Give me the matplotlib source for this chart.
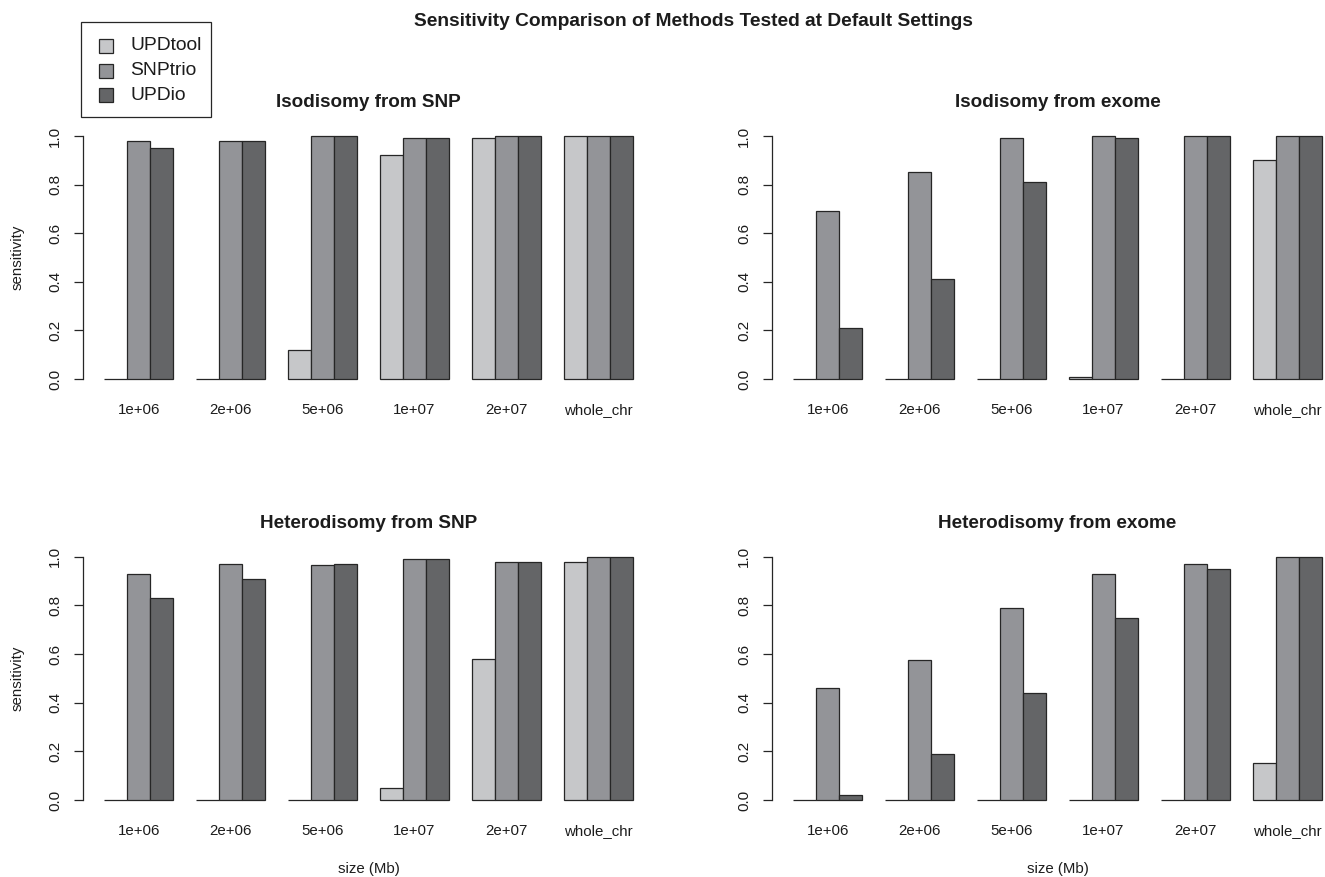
import matplotlib
matplotlib.use("Agg")
import matplotlib.pyplot as plt
from matplotlib.patches import Rectangle
import numpy as np

plt.rcParams['font.family'] = ['Liberation Sans', 'DejaVu Sans']

# ---- data -------------------------------------------------------------
sizes = ["1e+06", "2e+06", "5e+06", "1e+07", "2e+07", "whole_chr"]
methods = ["UPDtool", "SNPtrio", "UPDio"]

iso_snp_updtool = [0.00, 0.00, 0.12, 0.92, 0.99, 1.00]
iso_snp_snptrio = [0.98, 0.98, 1.00, 0.99, 1.00, 1.00]
iso_snp_updio   = [0.95, 0.98, 1.00, 0.99, 1.00, 1.00]

iso_exome_updtool = [0.00, 0.00, 0.00, 0.01, 0.00, 0.90]
iso_exome_snptrio = [0.69, 0.85, 0.99, 1.00, 1.00, 1.00]
iso_exome_updio   = [0.21, 0.41, 0.81, 0.99, 1.00, 1.00]

het_snp_updtool = [0.00, 0.00, 0.00, 0.05, 0.58, 0.98]
het_snp_snptrio = [0.93, 0.97, 0.965, 0.99, 0.98, 1.00]
het_snp_updio   = [0.83, 0.91, 0.97, 0.99, 0.98, 1.00]

het_exome_updtool = [0.00, 0.00, 0.00, 0.00, 0.00, 0.15]
het_exome_snptrio = [0.46, 0.575, 0.79, 0.93, 0.97, 1.00]
het_exome_updio   = [0.02, 0.19, 0.44, 0.75, 0.95, 1.00]

panels = [
    ("Isodisomy from SNP", [iso_snp_updtool, iso_snp_snptrio, iso_snp_updio]),
    ("Isodisomy from exome", [iso_exome_updtool, iso_exome_snptrio, iso_exome_updio]),
    ("Heterodisomy from SNP", [het_snp_updtool, het_snp_snptrio, het_snp_updio]),
    ("Heterodisomy from exome", [het_exome_updtool, het_exome_snptrio, het_exome_updio]),
]

# ---- styling ------------------------------------------------------------
fills = ["#c6c7c9", "#939498", "#646567"]
edge = "#262626"
text_col = "#1c1c1c"

W, H = 1325, 877
fig = plt.figure(figsize=(W / 100, H / 100), dpi=100)
fig.patch.set_facecolor("white")


def px_axes(left, top, right, bottom):
    """Axes placed by pixel edges of the plotting region."""
    return fig.add_axes([left / W, 1 - bottom / H, (right - left) / W, (bottom - top) / H])


regions = [
    (83, 126.3, 654, 388.7),
    (772, 126.3, 1343, 388.7),
    (83, 547.0, 654, 809.7),
    (772, 547.0, 1343, 809.7),
]

n_groups = len(sizes)
n_methods = len(methods)
group_step = n_methods + 1  # one empty slot between groups

for idx, ((title, series), reg) in enumerate(zip(panels, regions)):
    ax = px_axes(*reg)
    ax.set_facecolor("none")
    for k, vals in enumerate(series):
        lefts = 1 + group_step * np.arange(n_groups) + k
        ax.bar(lefts, vals, width=1.0, align="edge", color=fills[k],
               edgecolor=edge, linewidth=0.9)
    total = group_step * n_groups
    pad = 0.04 * (total - 1)
    ax.set_xlim(1 - pad, total + pad)
    ax.set_ylim(-0.04, 1.04)

    for s in ("top", "right", "bottom"):
        ax.spines[s].set_visible(False)
    ax.spines["left"].set_bounds(0, 1)
    ax.spines["left"].set_color(edge)
    ax.spines["left"].set_linewidth(0.9)

    centers = 1 + group_step * np.arange(n_groups) + n_methods / 2
    ax.set_xticks(centers)
    ax.set_xticklabels(sizes)
    ax.tick_params(axis="x", length=0, pad=10, labelsize=10.8, labelcolor=text_col)

    yt = np.arange(0, 1.01, 0.2)
    ax.set_yticks(yt)
    ax.set_yticklabels([f"{v:.1f}" for v in yt])
    ax.tick_params(axis="y", length=6.5, width=0.9, color=edge, pad=8.5,
                   labelsize=11, labelcolor=text_col)
    for lab in ax.get_yticklabels():
        lab.set_rotation(90)
        lab.set_va("center")

    width_px = reg[2] - reg[0]
    ax.set_title(title, fontsize=13.6, fontweight="bold", color=text_col, pad=14)

    if idx % 2 == 0:
        ax.text((18 - reg[0]) / width_px, 0.5, "sensitivity", rotation=90,
                ha="center", va="center", fontsize=10.8, color=text_col,
                transform=ax.transAxes)
    if idx >= 2:
        ax.text(0.5, -(869 - reg[3]) / (reg[3] - reg[1]), "size (Mb)",
                ha="center", va="center", fontsize=10.8, color=text_col,
                transform=ax.transAxes)

fig.text(693 / W, 1 - 21 / H, "Sensitivity Comparison of Methods Tested at Default Settings",
         ha="center", va="center", fontsize=13.8, fontweight="bold", color=text_col)

# ---- legend box drawn in pixel space ------------------------------------
overlay = fig.add_axes([0, 0, 1, 1])
overlay.set_xlim(0, W)
overlay.set_ylim(H, 0)
overlay.axis("off")
overlay.add_patch(Rectangle((81, 22), 130, 95, facecolor="white", edgecolor=edge, linewidth=0.9))
row_y = [46, 70.5, 95]
for k, name in enumerate(methods):
    overlay.add_patch(Rectangle((99, row_y[k] - 7), 14, 14, facecolor=fills[k],
                                edgecolor=edge, linewidth=0.9))
    overlay.text(130, row_y[k], name, ha="left", va="center", fontsize=13.9, color=text_col)

fig.savefig("out.png", dpi=100, facecolor="white")
